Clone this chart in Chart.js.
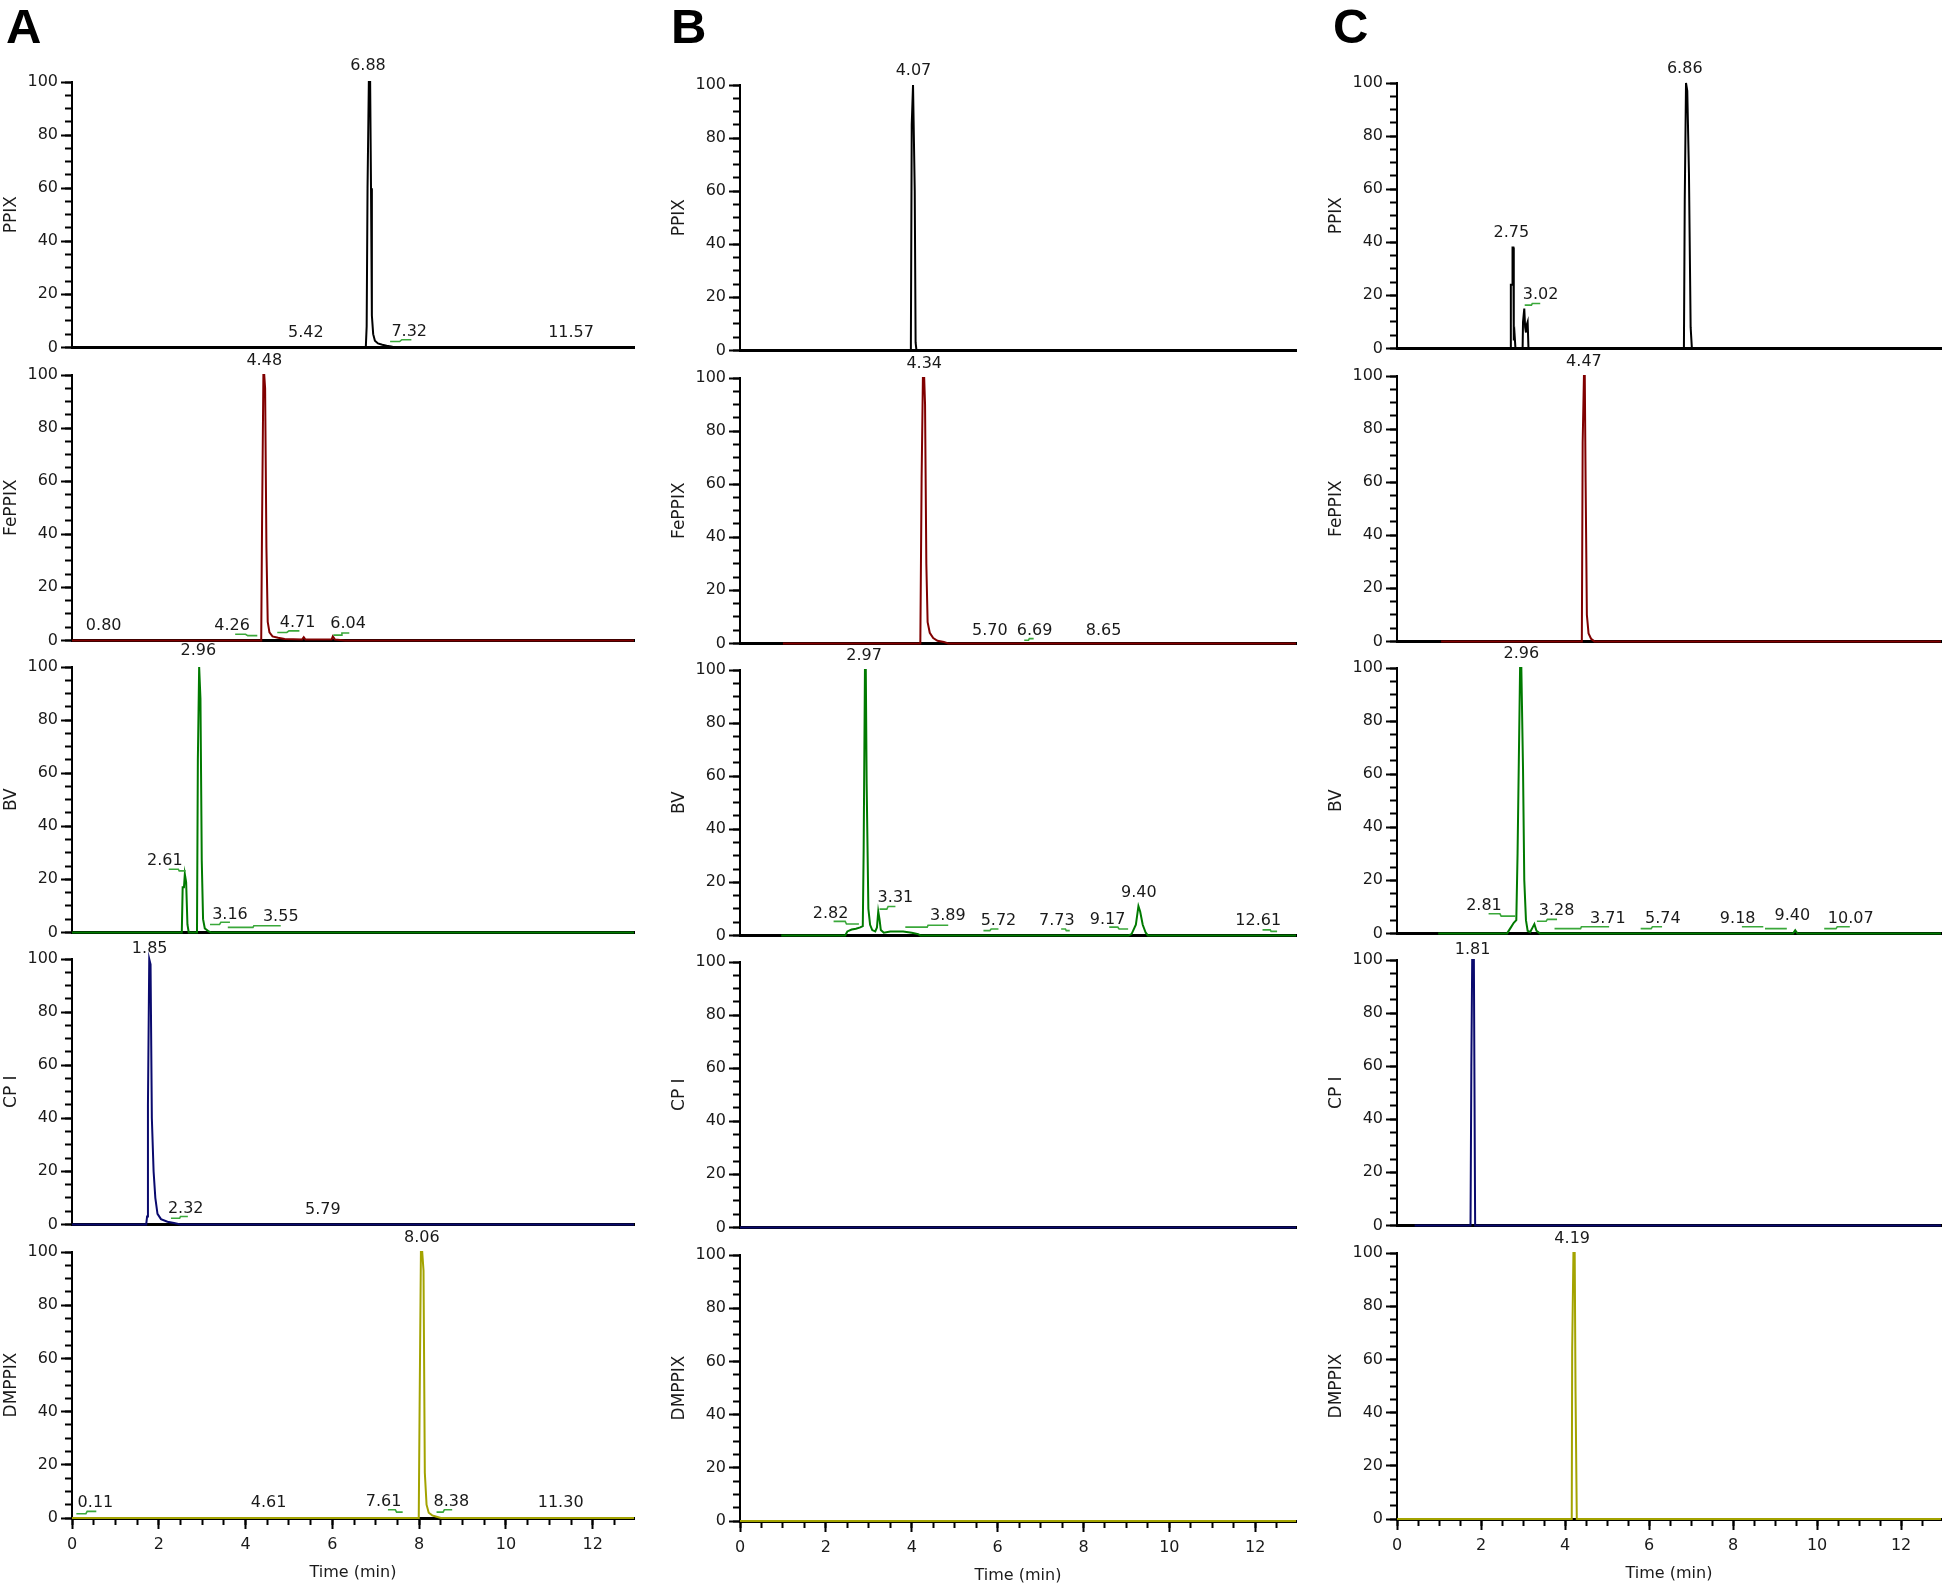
<!DOCTYPE html>
<html>
<head>
<meta charset="utf-8">
<title>Chromatograms</title>
<script src="https://cdn.jsdelivr.net/npm/chart.js"></script>
<style>
  body { margin: 0; background: #fff; width: 1945px; height: 1588px; position: relative; overflow: hidden; }
  canvas { position: absolute; }
  .tag { position: absolute; font: bold 49px "Liberation Sans", Arial, sans-serif; line-height: 49px; color: #000; }
</style>
</head>
<body>
<div class="tag" style="left:6px;top:2px">A</div>
<div class="tag" style="left:671px;top:2px">B</div>
<div class="tag" style="left:1333px;top:2px">C</div>
<script>
// ---- data ----
const compounds = ['PPIX', 'FePPIX', 'BV', 'CP I', 'DMPPIX'];
const traceColors = ['#000000', '#800000', '#007a00', '#0a0a6e', '#a3a300'];
const xTickVals = [0, 2, 4, 6, 8, 10, 12];
const yTickVals = [0, 20, 40, 60, 80, 100];

// traces: [time (min), relative abundance]
const ppixA = [[0,0],[6.77,0],[6.79,8],[6.81,60],[6.84,100],[6.87,100],[6.89,60],[6.91,12],[6.94,5],[6.98,2.5],[7.05,1.5],[7.15,1],[7.25,0.6],[7.35,0.3],[7.45,0],[12.95,0]];
const fepA = [[0,0],[4.36,0],[4.38,45],[4.41,100],[4.43,100],[4.45,95],[4.48,35],[4.51,7],[4.55,3],[4.62,1.5],[4.75,1],[4.9,0.5],[5.3,0.3],[5.34,1.2],[5.38,0.3],[5.98,0.3],[6.01,1.5],[6.06,0.3],[6.3,0],[12.95,0]];
const bvA = [[0,0],[2.53,0],[2.55,17],[2.58,17],[2.60,22],[2.63,19],[2.66,3],[2.69,0],[2.88,0],[2.90,65],[2.93,100],[2.96,88],[2.99,27],[3.02,5],[3.06,1.5],[3.10,1],[3.14,0.5],[3.2,0],[12.95,0]];
const cpA = [[0,0],[1.71,0],[1.73,3],[1.75,45],[1.78,100],[1.81,98],[1.84,40],[1.88,20],[1.92,10],[1.97,4],[2.05,2],[2.2,1],[2.35,0.5],[2.5,0],[12.95,0]];
const dmA = [[0,0],[7.99,0],[8.01,42],[8.04,100],[8.07,100],[8.10,93],[8.13,17],[8.17,5],[8.22,2],[8.3,1],[8.4,0.5],[8.5,0],[12.95,0]];

const ppixB = [[0,0],[3.96,0],[3.98,3],[4.00,85],[4.03,100],[4.05,100],[4.07,60],[4.09,3],[4.11,0],[12.95,0]];
const fepB = [[1.0,0],[4.20,0],[4.23,62],[4.26,100],[4.29,100],[4.31,90],[4.34,30],[4.37,8],[4.42,4],[4.5,2],[4.6,1],[4.75,0.5],[4.85,0],[12.95,0]];
const bvB = [[0.96,0],[2.45,0],[2.50,1.5],[2.60,2.2],[2.70,2.5],[2.80,3],[2.86,3.5],[2.88,32],[2.91,100],[2.93,100],[2.95,57],[2.99,10],[3.03,4],[3.08,2],[3.15,1.5],[3.19,3],[3.22,9],[3.25,6],[3.28,2],[3.35,1],[3.5,1.5],[3.8,1.5],[4.0,1],[4.15,0.5],[4.2,0],[9.05,0],[9.12,0.5],[9.22,4],[9.28,11],[9.32,9],[9.38,4],[9.45,1],[9.5,0],[12.95,0]];
const cpB = [[0,0],[12.95,0]];
const dmB = [[0,0],[12.95,0]];

const ppixC = [[0,0],[2.70,0],[2.71,24],[2.74,24],[2.75,38],[2.77,38],[2.78,3],[2.80,5],[2.82,0],[2.99,0],[3.00,10],[3.03,15],[3.05,8],[3.07,6],[3.09,9],[3.11,10],[3.13,0],[6.83,0],[6.85,56],[6.88,100],[6.91,97],[6.95,66],[6.99,8],[7.02,0],[12.95,0]];
const fepC = [[1.05,0],[4.40,0],[4.42,75],[4.45,100],[4.47,100],[4.49,60],[4.52,10],[4.56,3],[4.62,1],[4.7,0],[12.95,0]];
const bvC = [[0.98,0],[2.62,0],[2.70,2],[2.78,4],[2.84,5],[2.87,30],[2.90,65],[2.93,100],[2.96,100],[3.00,62],[3.03,20],[3.07,5],[3.11,1],[3.17,0.5],[3.22,2],[3.27,3.5],[3.32,1],[3.40,0],[9.43,0],[9.48,1.2],[9.53,0],[12.95,0]];
const cpC = [[0.42,0],[1.75,0],[1.77,60],[1.79,100],[1.83,100],[1.86,0],[12.95,0]];
const dmC = [[0,0],[4.16,0],[4.17,63],[4.20,100],[4.23,100],[4.25,48],[4.28,0],[12.95,0]];

// peak labels: [text, time, level]
const ppixALabels = [['6.88',6.82,106],['5.42',5.39,5.5],['7.32',7.77,6],['11.57',11.5,5.5]];
const fepALabels = [['4.48',4.43,105.5],['0.80',0.73,5.6],['4.26',3.69,5.6],['4.71',5.20,6.8],['6.04',6.36,6.4]];
const bvALabels = [['2.96',2.91,106],['2.61',2.14,27],['3.16',3.64,6.8],['3.55',4.81,5.7]];
const cpALabels = [['1.85',1.79,104],['2.32',2.62,6],['5.79',5.78,5.6]];
const dmALabels = [['8.06',8.06,105.5],['0.11',0.54,5.6],['4.61',4.53,5.6],['7.61',7.18,6],['8.38',8.74,6.2],['11.30',11.26,5.6]];

const ppixBLabels = [['4.07',4.04,105.5]];
const fepBLabels = [['4.34',4.29,105.5],['5.70',5.82,4.8],['6.69',6.86,4.8],['8.65',8.47,4.8]];
const bvBLabels = [['2.97',2.89,105.5],['2.82',2.11,8.2],['3.31',3.62,14],['3.89',4.84,7.2],['5.72',6.02,5.5],['7.73',7.38,5.5],['9.17',8.56,5.8],['9.40',9.29,16],['12.61',12.07,5.3]];
const cpBLabels = [];
const dmBLabels = [];

const ppixCLabels = [['2.75',2.72,43.5],['3.02',3.42,20.3],['6.86',6.85,105.5]];
const fepCLabels = [['4.47',4.45,105.5]];
const bvCLabels = [['2.96',2.96,105.5],['2.81',2.07,10.3],['3.28',3.80,8.4],['3.71',5.02,5.5],['5.74',6.33,5.5],['9.18',8.11,5.5],['9.40',9.41,6.8],['10.07',10.80,5.5]];
const cpCLabels = [['1.81',1.80,104]];
const dmCLabels = [['4.19',4.17,105.5]];

// green integration marks under the labels
const ppixAMarks = [[[7.33,2.2],[7.55,2.2],[7.6,2.9],[7.82,2.9]]];
const fepAMarks = [[[3.76,2.3],[4.0,2.3],[4.05,1.8],[4.27,1.8]],[[4.73,3.0],[4.95,3.0],[5.0,3.6],[5.24,3.6]],[[6.02,2.0],[6.2,2.0],[6.22,2.8],[6.39,2.8]]];
const bvAMarks = [[[2.23,23.8],[2.45,23.8],[2.47,23.2],[2.62,23.2]],[[3.18,3.0],[3.40,3.0],[3.43,3.8],[3.64,3.8]],[[3.59,1.9],[4.17,1.9],[4.19,2.5],[4.81,2.5]]];
const cpAMarks = [[[2.28,2.3],[2.48,2.3],[2.5,3.0],[2.67,3.0]]];
const dmAMarks = [[[0.10,1.6],[0.32,1.6],[0.35,2.5],[0.56,2.5]],[[7.28,3.1],[7.45,3.1],[7.48,2.2],[7.62,2.2]],[[8.40,2.2],[8.55,2.2],[8.58,3.1],[8.76,3.1]]];

const ppixBMarks = [];
const fepBMarks = [[[6.62,1.2],[6.72,1.2],[6.74,1.8],[6.84,1.8]]];
const bvBMarks = [[[2.18,5.3],[2.45,5.3],[2.48,4.3],[2.77,4.3]],[[3.25,9.9],[3.42,9.9],[3.45,10.9],[3.62,10.9]],[[3.85,3.1],[4.36,3.1],[4.38,3.8],[4.85,3.8]],[[5.67,1.8],[5.82,1.8],[5.85,2.4],[6.02,2.4]],[[7.48,2.4],[7.58,2.4],[7.60,1.8],[7.68,1.8]],[[8.60,3.1],[8.80,3.1],[8.83,2.4],[9.04,2.4]],[[12.17,2.1],[12.35,2.1],[12.37,1.5],[12.51,1.5]]];
const cpBMarks = [];
const dmBMarks = [];

const ppixCMarks = [[[3.04,16.3],[3.2,16.3],[3.22,16.9],[3.41,16.9]]];
const fepCMarks = [];
const bvCMarks = [[[2.18,7.4],[2.45,7.4],[2.48,6.5],[2.82,6.5]],[[3.33,4.6],[3.55,4.6],[3.58,5.3],[3.81,5.3]],[[3.75,1.8],[4.37,1.8],[4.39,2.5],[5.05,2.5]],[[5.80,1.8],[6.05,1.8],[6.08,2.5],[6.31,2.5]],[[8.21,2.5],[8.72,2.5]],[[8.76,1.8],[9.28,1.8]],[[10.17,1.8],[10.45,1.8],[10.48,2.5],[10.78,2.5]]];
const cpCMarks = [];
const dmCMarks = [];

const traces = [[ppixA, fepA, bvA, cpA, dmA], [ppixB, fepB, bvB, cpB, dmB], [ppixC, fepC, bvC, cpC, dmC]];
const peakLabels = [[ppixALabels, fepALabels, bvALabels, cpALabels, dmALabels], [ppixBLabels, fepBLabels, bvBLabels, cpBLabels, dmBLabels], [ppixCLabels, fepCLabels, bvCLabels, cpCLabels, dmCLabels]];
const peakMarks = [[ppixAMarks, fepAMarks, bvAMarks, cpAMarks, dmAMarks], [ppixBMarks, fepBMarks, bvBMarks, cpBMarks, dmBMarks], [ppixCMarks, fepCMarks, bvCMarks, cpCMarks, dmCMarks]];

// ---- layout ----
const colAxisX = [72, 740, 1397];
const colPlotW = [562, 556, 544];
const colShift = [0, 3, 1];
const rowTop = [82, 375, 667, 959, 1252];
const PLOT_H = 266, LEFT_W = 72, TOP_PAD = 28, RIGHT_PAD = 6, X_MAX = 12.95;
const FONT = '"DejaVu Sans", sans-serif';

Chart.defaults.font.family = FONT;
Chart.defaults.font.size = 16;
Chart.defaults.color = '#1a1a1a';

function labelPlugin(items) {
  return {
    id: 'peakLabels',
    afterDatasetsDraw(chart) {
      const { ctx, scales } = chart;
      ctx.save();
      ctx.font = '16px ' + FONT;
      ctx.fillStyle = '#1a1a1a';
      ctx.textAlign = 'center';
      ctx.textBaseline = 'middle';
      items.forEach(([txt, t, v]) => {
        ctx.fillText(txt, scales.x.getPixelForValue(t), scales.y.getPixelForValue(v));
      });
      ctx.restore();
    }
  };
}

traces.forEach((col, c) => col.forEach((trace, r) => {
  const isBottom = r === compounds.length - 1;
  const w = LEFT_W + colPlotW[c] + RIGHT_PAD;
  const h = TOP_PAD + PLOT_H + (isBottom ? 64 : 12);
  const cv = document.createElement('canvas');
  cv.width = w; cv.height = h;
  cv.style.width = w + 'px'; cv.style.height = h + 'px';
  cv.style.left = (colAxisX[c] - LEFT_W) + 'px';
  cv.style.top = (rowTop[r] + colShift[c] - TOP_PAD) + 'px';
  document.body.appendChild(cv);

  const markData = [];
  peakMarks[c][r].forEach(seg => {
    seg.forEach(([x, y]) => markData.push({ x, y }));
    markData.push({ x: seg[seg.length - 1][0], y: null });
  });

  new Chart(cv, {
    type: 'line',
    data: {
      datasets: [
        { data: markData, xAxisID: 'x', yAxisID: 'y', borderColor: '#3aa83a', borderWidth: 1.6, pointRadius: 0, spanGaps: false, clip: false },
        { data: trace.map(([x, y]) => ({ x, y })), xAxisID: 'x', yAxisID: 'y', borderColor: traceColors[r], borderWidth: 2, pointRadius: 0, tension: 0, clip: false }
      ]
    },
    options: {
      responsive: false,
      devicePixelRatio: 1,
      animation: false,
      events: [],
      layout: { padding: { top: TOP_PAD, right: RIGHT_PAD, bottom: isBottom ? 0 : 12, left: 0 } },
      plugins: { legend: { display: false }, tooltip: { enabled: false } },
      scales: {
        x: {
          type: 'linear', position: 'bottom', min: 0, max: X_MAX,
          afterBuildTicks: s => { s.ticks = xTickVals.map(v => ({ value: v })); },
          ticks: { display: isBottom, autoSkip: false, maxRotation: 0, padding: 6, includeBounds: false },
          grid: { drawOnChartArea: false, drawTicks: isBottom, tickLength: 11, tickWidth: 2, tickColor: '#000' },
          border: { display: true, color: '#000', width: 3 },
          title: { display: isBottom, text: 'Time (min)', padding: { top: 0, bottom: 0 } },
          afterFit: s => { s.height = isBottom ? 64 : 0; }
        },
        x2: {
          type: 'linear', position: 'bottom', weight: -1, min: 0, max: X_MAX,
          ticks: { display: false, stepSize: 0.5, includeBounds: false },
          grid: { drawOnChartArea: false, drawTicks: isBottom, tickLength: 7, tickWidth: 2, tickColor: '#000' },
          border: { display: true, color: '#000', width: 3 },
          afterFit: s => { s.height = 0; }
        },
        y: {
          type: 'linear', position: 'left', min: 0, max: 100,
          afterBuildTicks: s => { s.ticks = yTickVals.map(v => ({ value: v })); },
          ticks: { padding: 3 },
          grid: { drawOnChartArea: false, tickLength: 11, tickWidth: 2, tickColor: '#000' },
          border: { display: true, color: '#000', width: 2 },
          title: { display: true, text: compounds[r], font: { size: 17 }, padding: { top: 1, bottom: 0 } },
          afterFit: s => { s.width = LEFT_W; }
        },
        y2: {
          type: 'linear', position: 'left', weight: -1, min: 0, max: 100,
          ticks: { display: false, stepSize: 5 },
          grid: { drawOnChartArea: false, tickLength: 7, tickWidth: 2, tickColor: '#000' },
          border: { display: true, color: '#000', width: 2 },
          afterFit: s => { s.width = 0; }
        }
      }
    },
    plugins: [labelPlugin(peakLabels[c][r])]
  });
}));
</script>
</body>
</html>
